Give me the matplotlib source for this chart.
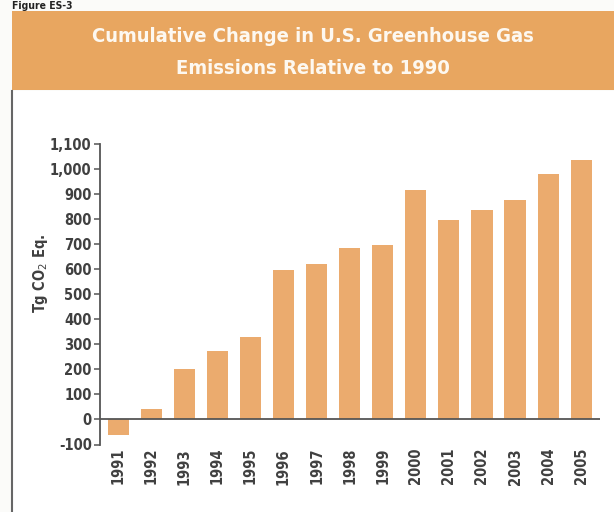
import matplotlib
matplotlib.use('Agg')
import matplotlib.pyplot as plt
from matplotlib.patches import Rectangle
from matplotlib.lines import Line2D
import numpy as np

# ── Data (Tg CO2 Eq., change vs 1990) ──
years = ['1991', '1992', '1993', '1994', '1995', '1996', '1997', '1998',
         '1999', '2000', '2001', '2002', '2003', '2004', '2005']
change = [-62, 41, 201, 275, 331, 598, 621, 685,
          697, 918, 798, 835, 878, 979, 1038]
yticks = [-100, 0, 100, 200, 300, 400, 500, 600, 700, 800, 900, 1000, 1100]

FONT = ['DejaVu Sans']
BANNER = '#E8A660'
BAR = '#EBAB6E'
TXT = '#404040'
COND = dict(family=FONT, fontstretch='condensed', fontweight='bold')

W, H = 614, 512
fig = plt.figure(figsize=(W / 100, H / 100), dpi=100)
fig.patch.set_facecolor('#FBFBF9')

# ── Banner + frame ──
fig.add_artist(Rectangle((12 / W, 1 - 90 / H), 1 - 12 / W, 79 / H,
                         transform=fig.transFigure, facecolor=BANNER,
                         edgecolor='none', zorder=0))
fig.add_artist(Rectangle((12 / W, 0), 1 - 12 / W, 1 - 91 / H,
                         transform=fig.transFigure, facecolor='white',
                         edgecolor='none', zorder=0))
fig.add_artist(Line2D([12 / W, 12 / W], [0, 1 - 91 / H],
                      transform=fig.transFigure, color='#666666', lw=1.5))

fig.text(12 / W, 1 - 9 / H, 'Figure ES-3', fontsize=7.5, color='#222222',
         va='baseline', **COND)
fig.text(0.51, 1 - 37 / H, 'Cumulative Change in U.S. Greenhouse Gas',
         fontsize=14.5, color='#FDF8F0', ha='center', va='center', **COND)
fig.text(0.51, 1 - 69 / H, 'Emissions Relative to 1990',
         fontsize=14.5, color='#FDF8F0', ha='center', va='center', **COND)

# ── Chart ──
ax = fig.add_axes([100 / W, 67.5 / H, 500 / W, 300.5 / H])
ax.set_facecolor('none')
x = np.arange(len(years))
ax.bar(x, change, width=0.64, color=BAR, edgecolor='none', zorder=2)
ax.axhline(0, color='#555555', lw=1.3, zorder=3)

ax.set_xlim(-0.55, 14.57)
ax.set_ylim(-100, 1100)
ax.set_yticks(yticks)
ax.set_yticklabels([f'{v:,}' for v in yticks], fontsize=10.5, color=TXT,
                   **COND)
ax.set_xticks(x)
ax.set_xticklabels(years, rotation=90, fontsize=10.5, color=TXT, **COND)
ax.tick_params(axis='x', length=0, pad=2.5)
ax.tick_params(axis='y', length=4, width=1.1, color='#555555', pad=2)

for s in ['top', 'right', 'bottom']:
    ax.spines[s].set_visible(False)
ax.spines['left'].set_color('#555555')
ax.spines['left'].set_linewidth(1.3)

fig.text(41 / W, 1 - 273 / H, 'Tg CO$_2$ Eq.', fontsize=10.5, color=TXT,
         rotation=90, ha='center', va='center', **COND)

fig.savefig('out.png', dpi=100, facecolor=fig.get_facecolor())
